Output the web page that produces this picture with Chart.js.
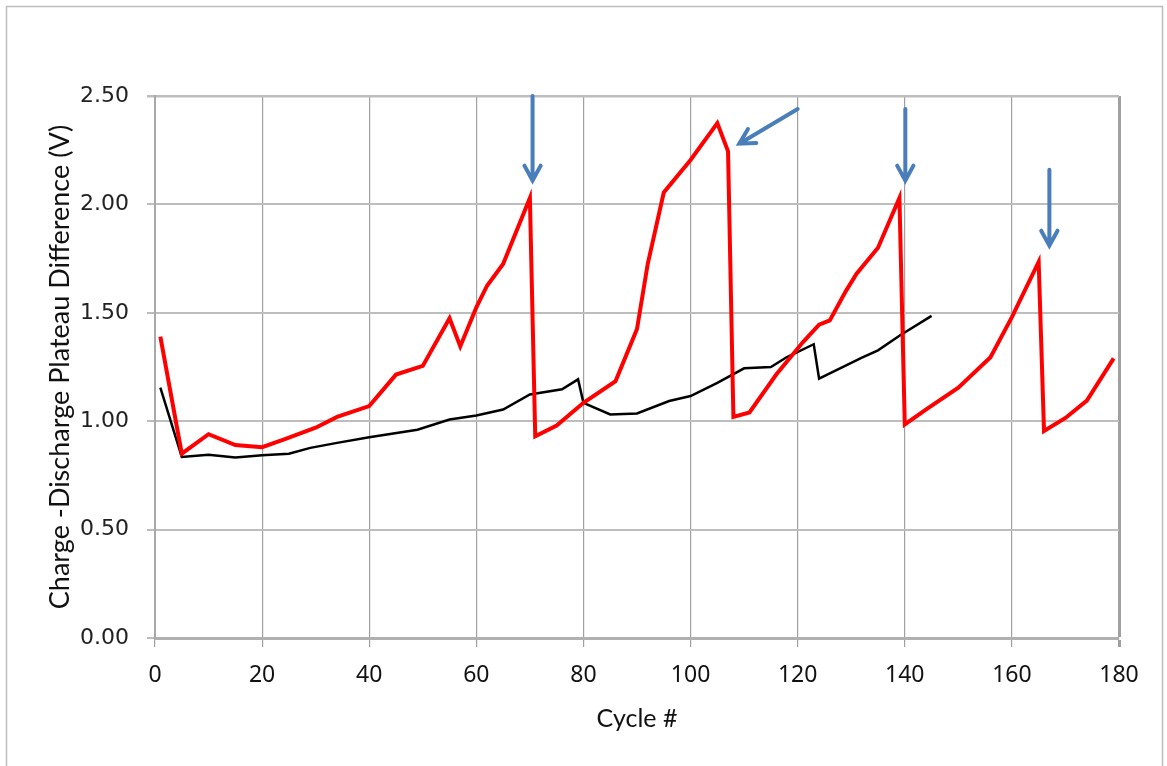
<!DOCTYPE html>
<html>
<head>
<meta charset="utf-8">
<script src="https://cdn.jsdelivr.net/npm/chart.js@4.4.1/dist/chart.umd.min.js"></script>
<style>
  html, body { margin: 0; padding: 0; background: #fff; }
  #wrap { width: 1167px; height: 766px; }
</style>
</head>
<body>
<div id="wrap"><canvas id="myChart"></canvas></div>
<script>
// red series (cycle #, plateau difference V)
const redCycles = [1, 5, 10, 15, 20, 24, 30, 34, 40, 45, 50, 55, 57, 60, 62, 65, 70, 71, 75, 80, 86, 90, 92, 95, 100, 105, 107, 108, 111, 116, 121, 124, 126, 129, 131, 135, 139, 140, 144, 150, 156, 160, 165, 166, 170, 174, 179];
const redValues = [1.39, 0.85, 0.94, 0.89, 0.88, 0.915, 0.97, 1.02, 1.07, 1.215, 1.255, 1.475, 1.345, 1.525, 1.625, 1.725, 2.03, 0.93, 0.98, 1.085, 1.185, 1.425, 1.725, 2.055, 2.205, 2.375, 2.245, 1.02, 1.04, 1.215, 1.365, 1.445, 1.465, 1.6, 1.68, 1.8, 2.03, 0.985, 1.055, 1.155, 1.295, 1.48, 1.735, 0.955, 1.015, 1.095, 1.29];

// black series
const blackCycles = [1, 5, 10, 15, 20, 25, 29, 34, 40, 49, 55, 60, 65, 70, 76, 79, 80, 85, 90, 96, 100, 105, 110, 115, 118, 123, 124, 132, 135, 139, 145];
const blackValues = [1.155, 0.835, 0.845, 0.833, 0.843, 0.85, 0.877, 0.9, 0.926, 0.961, 1.008, 1.026, 1.054, 1.123, 1.147, 1.193, 1.085, 1.031, 1.036, 1.093, 1.116, 1.177, 1.244, 1.25, 1.296, 1.355, 1.196, 1.293, 1.327, 1.394, 1.486];

// blue arrow annotations, in data units: [fromX, fromY, toX, toY]
const arrowFrom = [[70.5, 2.50], [120, 2.44], [140.1, 2.44], [167, 2.16]];
const arrowTo = [[70.5, 2.11], [109.1, 2.28], [140.1, 2.11], [167, 1.81]];

const xTicks = [0, 20, 40, 60, 80, 100, 120, 140, 160, 180];
const yTicks = [0, 0.5, 1.0, 1.5, 2.0, 2.5];

const toPoints = (xs, ys) => xs.map((x, i) => ({ x: x, y: ys[i] }));

const frame = {
  id: 'frame',
  beforeDraw(chart) {
    const c = chart.ctx;
    c.save();
    c.fillStyle = '#fff';
    c.fillRect(0, 0, chart.width, chart.height);
    c.strokeStyle = '#bdbdbd';
    c.lineWidth = 1.5;
    c.strokeRect(6.5, 6.5, 1156, 770);
    c.restore();
  }
};

const arrows = {
  id: 'arrows',
  afterDatasetsDraw(chart) {
    const c = chart.ctx;
    const xs = chart.scales.x, ys = chart.scales.y;
    c.save();
    c.strokeStyle = '#4a7ebb';
    c.lineWidth = 4;
    c.lineCap = 'round';
    arrowFrom.forEach((f, i) => {
      const x1 = xs.getPixelForValue(f[0]), y1 = ys.getPixelForValue(f[1]);
      const x2 = xs.getPixelForValue(arrowTo[i][0]), y2 = ys.getPixelForValue(arrowTo[i][1]);
      const a = Math.atan2(y2 - y1, x2 - x1);
      c.beginPath();
      c.moveTo(x1, y1);
      c.lineTo(x2, y2);
      c.moveTo(x2 - 17 * Math.cos(a - 0.5), y2 - 17 * Math.sin(a - 0.5));
      c.lineTo(x2, y2);
      c.lineTo(x2 - 17 * Math.cos(a + 0.5), y2 - 17 * Math.sin(a + 0.5));
      c.stroke();
    });
    c.restore();
  }
};

const ctx = document.getElementById('myChart').getContext('2d');
const myChart = new Chart(ctx, {
    type: 'line',
    data: {
        datasets: [{
          label: 'Cell A',
          data: toPoints(redCycles, redValues),
          borderColor: '#ff0000',
          borderWidth: 4,
          pointRadius: 0,
          tension: 0
        }, {
          label: 'Cell B',
          data: toPoints(blackCycles, blackValues),
          borderColor: '#000000',
          borderWidth: 2.5,
          pointRadius: 0,
          tension: 0
        }]
      },
    options: {
        responsive: true,
        maintainAspectRatio: false,
        animation: false,
        plugins: {
            legend: { display: false },
            tooltip: { enabled: false }
        },
        scales: {
            x: {
                type: 'linear',
                min: 0,
                max: 180,
                afterBuildTicks: (s) => { s.ticks = xTicks.map(v => ({ value: v })); },
                afterFit: (s) => { s.height = 128; },
                grid: {
                    color: '#a0a0a0',
                    lineWidth: (c) => c.tick && c.tick.value === 180 ? 3 : 1.2,
                    tickLength: 9
                },
                border: { color: '#b0b0b0', width: 3 },
                ticks: {
                    color: '#111',
                    padding: 15,
                    font: { family: 'Noto Sans', size: 23 }
                },
                title: {
                    display: true,
                    text: 'Cycle #',
                    color: '#111',
                    padding: { top: 0, bottom: 32 },
                    font: { family: 'Lato', size: 25 }
                }
            },
            y: {
                min: 0,
                max: 2.5,
                afterBuildTicks: (s) => { s.ticks = yTicks.map(v => ({ value: v })); },
                afterFit: (s) => { s.width = 155; },
                grid: {
                    color: '#bdbdbd',
                    lineWidth: (c) => c.tick && c.tick.value === 2.5 ? 2.5 : 2,
                    tickLength: 8
                },
                border: { color: '#a8a8a8', width: 2 },
                ticks: {
                    color: '#222',
                    padding: 18,
                    font: { family: 'DejaVu Sans', size: 22 },
                    callback: (v) => Number(v).toFixed(2)
                },
                title: {
                    display: true,
                    text: 'Charge -Discharge Plateau Difference (V)',
                    color: '#111',
                    padding: { top: 44, bottom: 0 },
                    font: { family: 'Lato', size: 27 }
                }
            }
        },
        layout: {
            padding: {
                top: 96,
                left: 0,
                right: 48,
                bottom: 0
            }
        }
    },
    plugins: [frame, arrows]
});
</script>
</body>
</html>
